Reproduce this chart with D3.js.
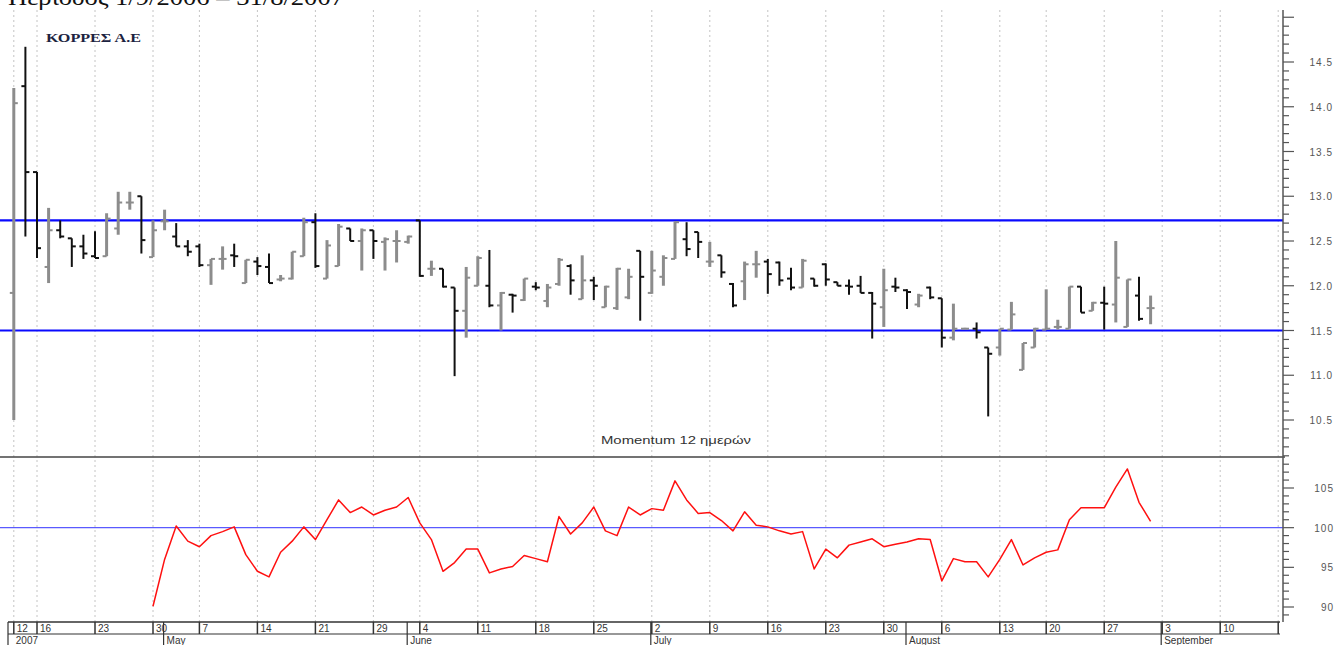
<!DOCTYPE html>
<html>
<head>
<meta charset="utf-8">
<script src="https://cdn.jsdelivr.net/npm/d3@7"></script>
<style>
  body { margin: 0; background: #fff; }
  svg { display: block; }
</style>
</head>
<body>
<main></main>
<script>
// trading days on the axis run from the first bar to the last tick (17 Sep 2007)
const firstDay = "2007-04-12";
const lastDay = "2007-09-17";
const holidays = ["2007-05-01", "2007-05-28", "2007-08-15"];

const opens = [
  11.92, 14.23, 13.27, 12.21, 12.62, 12.53, 12.44, 12.33, 12.33, 12.64,
  12.93, 13.00, 12.32, 12.72, 12.55, 12.44, 12.44, 12.23, 12.30, 12.34,
  12.03, 12.27, 12.21, 12.07, 12.08, 12.33, 12.71, 12.08, 12.22, 12.64,
  12.50, 12.62, 12.49, 12.50, 12.49, 12.73, 12.19, 12.19, 11.98, 11.72,
  12.00, 12.00, 11.78, 11.90, 11.84, 11.99, 11.83, 12.02, 12.22, 11.85,
  12.06, 11.76, 11.75, 11.87, 12.39, 11.92, 12.10, 12.30, 12.52, 12.60,
  12.27, 12.34, 12.02, 12.05, 12.24, 12.27, 12.26, 12.08, 11.98, 12.08,
  12.24, 12.04, 12.00, 12.00, 11.92, 11.76, 11.99, 11.95, 11.79, 11.98,
  11.86, 11.42, 11.52, 11.52, 11.31, 11.31, 11.51, 11.06, 11.31, 11.51,
  11.54, 11.52, 11.99, 11.72, 11.81, 11.79, 11.54, 11.89, 11.75
];
const highs = [
  14.21, 14.67, 13.27, 12.87, 12.73, 12.53, 12.57, 12.61, 12.81, 13.05,
  13.05, 13.00, 12.73, 12.85, 12.70, 12.51, 12.47, 12.30, 12.44, 12.47,
  12.29, 12.32, 12.36, 12.12, 12.38, 12.76, 12.81, 12.51, 12.69, 12.64,
  12.64, 12.62, 12.54, 12.62, 12.56, 12.73, 12.28, 12.19, 11.98, 12.21,
  12.33, 12.40, 11.93, 11.91, 12.08, 12.04, 12.02, 12.31, 12.24, 12.34,
  12.10, 12.00, 12.20, 12.19, 12.39, 12.39, 12.34, 12.72, 12.71, 12.60,
  12.49, 12.34, 12.03, 12.27, 12.39, 12.30, 12.27, 12.20, 12.30, 12.08,
  12.25, 12.04, 12.07, 12.11, 11.93, 12.19, 12.09, 11.96, 11.91, 11.99,
  11.86, 11.80, 11.53, 11.59, 11.31, 11.52, 11.82, 11.36, 11.53, 11.96,
  11.62, 11.99, 11.99, 11.82, 11.99, 12.50, 12.07, 12.10, 11.89
];
const lows = [
  10.50, 12.55, 12.31, 12.03, 12.53, 12.21, 12.30, 12.31, 12.33, 12.57,
  12.85, 12.36, 12.32, 12.62, 12.44, 12.33, 12.21, 12.01, 12.18, 12.21,
  12.03, 12.12, 12.03, 12.05, 12.07, 12.33, 12.20, 12.08, 12.22, 12.50,
  12.17, 12.30, 12.17, 12.26, 12.47, 12.10, 12.11, 11.98, 10.99, 11.42,
  12.00, 11.76, 11.50, 11.70, 11.83, 11.95, 11.76, 12.00, 11.90, 11.85,
  11.84, 11.76, 11.73, 11.85, 11.61, 11.91, 12.00, 12.30, 12.33, 12.31,
  12.21, 12.09, 11.76, 11.84, 12.09, 11.91, 12.00, 11.95, 11.98, 11.99,
  12.00, 12.00, 11.90, 11.92, 11.41, 11.54, 11.93, 11.74, 11.76, 11.85,
  11.31, 11.39, 11.52, 11.41, 10.54, 11.22, 11.51, 11.06, 11.31, 11.51,
  11.51, 11.52, 11.70, 11.72, 11.51, 11.59, 11.54, 11.61, 11.57
];
const closes = [
  14.04, 13.27, 12.42, 12.62, 12.55, 12.44, 12.36, 12.31, 12.75, 12.93,
  12.93, 12.51, 12.62, 12.72, 12.44, 12.38, 12.23, 12.30, 12.30, 12.33,
  12.29, 12.22, 12.03, 12.08, 12.38, 12.71, 12.22, 12.45, 12.66, 12.50,
  12.62, 12.50, 12.52, 12.50, 12.55, 12.11, 12.19, 11.99, 11.72, 12.09,
  12.31, 11.78, 11.92, 11.89, 12.08, 11.98, 11.98, 12.29, 12.06, 12.06,
  12.00, 11.99, 12.19, 12.10, 12.10, 12.17, 12.31, 12.71, 12.41, 12.49,
  12.27, 12.15, 11.78, 12.24, 12.24, 12.13, 12.06, 11.98, 12.28, 12.00,
  12.07, 12.00, 11.99, 11.92, 11.80, 11.95, 11.98, 11.93, 11.89, 11.87,
  11.42, 11.52, 11.52, 11.48, 11.24, 11.52, 11.68, 11.36, 11.52, 11.52,
  11.54, 11.99, 11.70, 11.81, 11.80, 12.09, 12.07, 11.63, 11.75
];

// 12-day momentum, first value on 30 Apr 2007
const momentumStart = 12;
const momentum = [
  90.1, 96.0, 100.2, 98.3, 97.6, 99.0, 99.5, 100.1, 96.6, 94.5,
  93.8, 96.9, 98.3, 100.1, 98.5, 101.0, 103.5, 101.9, 102.6, 101.6,
  102.2, 102.6, 103.8, 100.6, 98.5, 94.5, 95.6, 97.3, 97.3, 94.3,
  94.8, 95.1, 96.5, 96.1, 95.7, 101.4, 99.2, 100.6, 102.6, 99.6,
  99.0, 102.6, 101.6, 102.4, 102.2, 105.9, 103.5, 101.8, 101.9, 100.9,
  99.6, 102.0, 100.3, 100.1, 99.6, 99.2, 99.5, 94.8, 97.3, 96.2,
  97.8, 98.2, 98.6, 97.6, 97.9, 98.2, 98.6, 98.5, 93.3, 96.1,
  95.7, 95.7, 93.8, 96.0, 98.5, 95.3, 96.2, 96.9, 97.2, 101.0,
  102.5, 102.5, 102.5, 105.1, 107.4, 103.2, 100.8
];

const channelLines = [12.73, 11.5];
const momentumRef = 100;
const priceTicks = [10.5, 11.0, 11.5, 12.0, 12.5, 13.0, 13.5, 14.0, 14.5];
const momentumTicks = [90, 95, 100, 105];
const monthNames = ["January", "February", "March", "April", "May", "June", "July",
  "August", "September", "October", "November", "December"];

const title = "Περίοδος 1/9/2006 – 31/8/2007";
const stockName = "ΚΟΡΡΕΣ Α.Ε";
const momentumTitle = "Momentum 12 ημερών";

draw(document.querySelector("main"));

function draw(el) {
  const W = 1335, H = 645;
  const plotLeft = 8, plotRight = 1284, axisX = 1283;
  const plotTop = 10, sepY = 457, dateTop = 622, dateMid = 634;

  const parse = d3.utcParse("%Y-%m-%d");
  const fmt = d3.utcFormat("%Y-%m-%d");
  const days = d3.utcDay.range(parse(firstDay), d3.utcDay.offset(parse(lastDay), 1))
    .filter(d => d.getUTCDay() !== 0 && d.getUTCDay() !== 6 && !holidays.includes(fmt(d)));

  const bars = opens.map((o, i) => ({
    day: days[i], open: o, high: highs[i], low: lows[i], close: closes[i]
  }));
  const mom = momentum.map((v, i) => ({ day: days[momentumStart + i], value: v }));

  const svg = d3.select(el).append("svg")
    .attr("width", W).attr("height", H)
    .style("font-family", "Arial, 'Liberation Sans', sans-serif");

  const x = d3.scaleBand().domain(days).range([plotLeft, plotRight]);
  const cx = d => x(d) + x.bandwidth() / 2;
  const y = d3.scaleLinear().domain([10.5, 14.5]).range([420, 62]);
  const ym = d3.scaleLinear().domain([90, 105]).range([607, 488]);

  // week and month boundaries
  const weekDays = days.filter((d, i) => i === 0 ||
    +d3.utcMonday.floor(d) !== +d3.utcMonday.floor(days[i - 1]));
  const monthDays = days.filter((d, i) => i === 0 || d.getUTCMonth() !== days[i - 1].getUTCMonth());

  // dotted grid
  svg.append("g").selectAll("line").data(weekDays).join("line")
    .attr("x1", cx).attr("x2", cx)
    .attr("y1", plotTop).attr("y2", dateTop)
    .attr("stroke", "#c4c4c4").attr("stroke-width", 1)
    .attr("stroke-dasharray", "2,3");

  // channel lines
  svg.append("g").selectAll("line").data(channelLines).join("line")
    .attr("x1", 0).attr("x2", axisX)
    .attr("y1", d => y(d)).attr("y2", d => y(d))
    .attr("stroke", "#0a0aff").attr("stroke-width", 2.2);

  // OHLC bars
  const barG = svg.append("g").selectAll("g").data(bars).join("g")
    .attr("stroke", d => d.close >= d.open ? "#8c8c8c" : "#111")
    .attr("transform", d => `translate(${cx(d.day)},0)`);
  barG.append("line")
    .attr("y1", d => y(d.high)).attr("y2", d => y(d.low))
    .attr("stroke-width", d => d.close >= d.open ? 3 : 2);
  barG.append("line")
    .attr("x1", -4).attr("x2", 0)
    .attr("y1", d => y(d.open)).attr("y2", d => y(d.open))
    .attr("stroke-width", 2);
  barG.append("line")
    .attr("x1", 0).attr("x2", 4)
    .attr("y1", d => y(d.close)).attr("y2", d => y(d.close))
    .attr("stroke-width", 2);

  // panel separator
  svg.append("line")
    .attr("x1", 0).attr("x2", axisX + 2)
    .attr("y1", sepY).attr("y2", sepY)
    .attr("stroke", "#444").attr("stroke-width", 1.5);

  // momentum panel
  svg.append("line")
    .attr("x1", 0).attr("x2", axisX)
    .attr("y1", ym(momentumRef)).attr("y2", ym(momentumRef))
    .attr("stroke", "#5a5aff").attr("stroke-width", 1.2);

  svg.append("path")
    .datum(mom)
    .attr("fill", "none")
    .attr("stroke", "#ff1010")
    .attr("stroke-width", 1.5)
    .attr("stroke-linejoin", "round")
    .attr("d", d3.line().x(d => cx(d.day)).y(d => ym(d.value)));

  svg.append("text")
    .attr("x", 676).attr("y", 444)
    .attr("text-anchor", "middle")
    .attr("font-size", 11).attr("fill", "#333")
    .attr("textLength", 150).attr("lengthAdjust", "spacingAndGlyphs")
    .text(momentumTitle);

  // right axis
  const ax = svg.append("g").attr("stroke", "#555");
  ax.append("line")
    .attr("x1", axisX).attr("x2", axisX)
    .attr("y1", plotTop).attr("y2", dateTop)
    .attr("stroke-width", 1.5);

  const priceMinor = d3.range(101, 151).map(v => v / 10);
  ax.selectAll(".pm").data(priceMinor).join("line")
    .attr("x1", axisX)
    .attr("x2", d => Math.round(d * 10) % 5 === 0 ? axisX + 11 : axisX + 6)
    .attr("y1", d => y(d)).attr("y2", d => y(d))
    .attr("stroke-width", 1.2);

  const momMinor = d3.range(89, 109);
  ax.selectAll(".mm").data(momMinor).join("line")
    .attr("x1", axisX)
    .attr("x2", d => d % 5 === 0 ? axisX + 11 : axisX + 6)
    .attr("y1", d => ym(d)).attr("y2", d => ym(d))
    .attr("stroke-width", 1.2);

  svg.append("g").selectAll("text").data(priceTicks).join("text")
    .attr("x", 1333).attr("y", d => y(d) + 4)
    .attr("text-anchor", "end")
    .attr("font-size", 10).attr("fill", "#555")
    .attr("letter-spacing", 1)
    .text(d => d.toFixed(1));

  svg.append("g").selectAll("text").data(momentumTicks).join("text")
    .attr("x", 1334).attr("y", d => ym(d) + 4)
    .attr("text-anchor", "end")
    .attr("font-size", 10).attr("fill", "#555")
    .attr("letter-spacing", 1)
    .text(d => d);

  // date axis rows
  const da = svg.append("g").attr("stroke", "#333");
  da.append("line").attr("x1", plotLeft).attr("x2", plotRight - 4)
    .attr("y1", dateTop).attr("y2", dateTop).attr("stroke-width", 1.5);
  da.append("line").attr("x1", plotLeft).attr("x2", plotRight - 4)
    .attr("y1", dateMid).attr("y2", dateMid).attr("stroke-width", 1.2);
  da.append("line").attr("x1", plotLeft).attr("x2", plotLeft)
    .attr("y1", dateTop).attr("y2", H).attr("stroke-width", 1.2);
  da.selectAll(".wk").data(weekDays).join("line")
    .attr("x1", cx).attr("x2", cx)
    .attr("y1", dateTop).attr("y2", dateMid)
    .attr("stroke-width", 1.5);
  da.selectAll(".mo").data(monthDays.slice(1)).join("line")
    .attr("x1", d => cx(d) - 1).attr("x2", d => cx(d) - 1)
    .attr("y1", dateTop).attr("y2", H)
    .attr("stroke-width", 1.2);

  svg.append("g").selectAll("text").data(weekDays.filter(d => cx(d) < 1260)).join("text")
    .attr("x", d => cx(d) + 3).attr("y", 632)
    .attr("font-size", 10).attr("fill", "#333")
    .text(d => d.getUTCDate());

  svg.append("g").selectAll("text").data(monthDays).join("text")
    .attr("x", d => cx(d) + 2).attr("y", 644)
    .attr("font-size", 10).attr("fill", "#333")
    .text((d, i) => i === 0 ? d.getUTCFullYear() : monthNames[d.getUTCMonth()]);

  // titles (the period title is cut by the top edge, as in the source picture)
  svg.append("text")
    .attr("x", 8).attr("y", 5)
    .attr("font-family", "'Liberation Serif', 'Times New Roman', serif")
    .attr("font-size", 24).attr("fill", "#111")
    .attr("textLength", 336).attr("lengthAdjust", "spacingAndGlyphs")
    .text(title);

  svg.append("text")
    .attr("x", 46).attr("y", 42)
    .attr("font-family", "'Liberation Serif', 'Times New Roman', serif")
    .attr("font-weight", "bold")
    .attr("font-size", 13).attr("fill", "#1c2340")
    .attr("textLength", 95).attr("lengthAdjust", "spacingAndGlyphs")
    .text(stockName);
}
</script>
</body>
</html>
